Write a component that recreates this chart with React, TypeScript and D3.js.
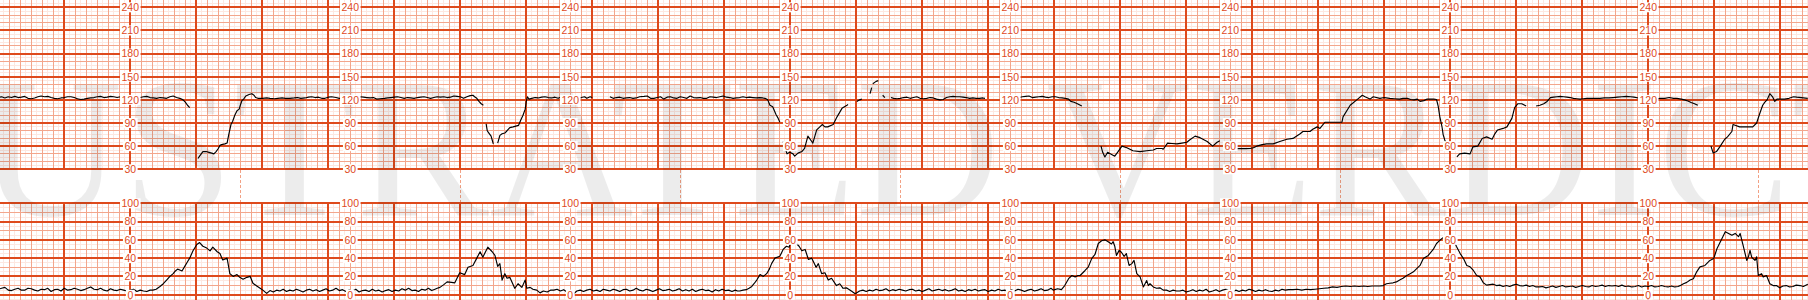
import React from 'react';
import * as d3 from 'd3';

// ---------- axes / ticks ----------
const fhrTicks = [30, 60, 90, 120, 150, 180, 210, 240];
const ucTicks = [0, 20, 40, 60, 80, 100];
// seconds at which the scale labels are printed
const labelTimes = [120, 320, 520, 720, 920, 1120, 1320, 1500];
// seconds at which event marks (dashed) appear between panels
const markerTimes = [220, 420, 620, 820, 1020, 1220, 1600];
const watermark = 'ILLUSTRATED VERDICT';

// ---------- fetal heart rate (bpm), [seconds, bpm], gaps = separate segments ----------
const fhrSegA = [[0,123],[3,124],[6,122.5],[9,124],[12,123],[15,124.5],[18,123],[21,123.5],[24,124.5],[27,122],[30,121.5],[33,122.5],[36,124],[39,125],[42,124],[45,124.5],[48,123],[51,122],[54,121.5],[57,122.5],[60,123],[63,124],[66,124],[69,123],[72,121.5],[75,120.5],[78,121],[81,122],[84,122.5],[87,123],[90,124],[93,124.5],[96,123],[99,123.5],[102,124.5],[105,124],[108,123],[111,124],[114,123],[117,123.5],[120,124.5],[123,124],[126,123.5],[129,123],[132,124],[135,124.5],[138,123],[141,122.5],[144,122],[147,123],[150,122.5],[153,122],[156,124],[159,125],[162,123],[165,122],[168,120],[170,117],[172,113],[174,110]];
const fhrSegB = [[181.5,44],[183,47],[186,53],[189,53],[191.5,52],[194,51],[196,50],[198,53],[200,57],[201.5,61],[203,62],[206,63],[208,64],[209.5,75],[211.5,88],[213,92],[215,100],[217,106],[219,108],[220,113],[221.5,119],[223,121],[225,125],[228,127],[230.5,128],[232.5,126],[234,123],[236,122],[240,122],[244,122.5],[247,122],[251,121.5],[254,122],[258,122.5],[261,122],[265,122],[269,122.5],[272,123],[275,122],[279,122.5],[282,123.5],[285,124],[288,123],[291,123.5],[294,122],[297,122],[300,123.5],[303,124],[307,123],[310,122],[313,122.5],[316,123],[319,124],[322,122.5],[325,122],[329,124],[332,123.5],[335,123],[338,122.5],[341,123],[344,121],[347,121.5],[351,122],[354,122.5],[357,123],[360,123.5],[363,124],[366,123],[369,122],[372,123],[375,122.5],[378,122],[381,123],[384,123.5],[387,124],[390,123],[393,122],[396,123],[399,124],[402,123.5],[405,124],[408,123],[411,123.5],[414,125],[417,124.5],[420,124],[423,122],[426,124],[429,125.5],[431.5,126],[433,124],[435,122],[437,118],[439,115],[441,113]];
const fhrSegC = [[443.5,89],[444.5,80],[446,77],[448,73],[449,68],[450,63]];
const fhrSegD = [[454,64],[456,74],[458,76],[460.5,77],[462.5,80],[465,84],[468,85],[470.5,86],[473,87],[475,94],[477,100],[479,108],[480,118],[481,124],[482.5,121],[485,122],[488,123],[491,122.5],[494,123.5],[497,124],[500,123],[503,122.5],[506,123.5],[509,122],[512,124],[515,125],[518,123.5],[521,123],[524,122],[527,122.5],[530,123],[533,124],[535,122],[538,124],[540,123]];
const fhrSegE = [[556,124],[559,122],[562,123],[565,123.5],[568,122],[571,122.5],[574,123],[577,122],[580,122.5],[583,124],[587,124.5],[590,125],[593,122],[596,122],[599,123],[602,124],[605,121],[608,123.5],[611,124],[614,122.5],[617,122],[620,124],[623,123],[626,122],[629,125],[632,123],[635,122.5],[638,123],[641,122],[644,122],[647,124],[650,123.5],[653,123],[656,124],[659,125],[662,123.5],[665,123],[668,122],[671,122.5],[674,123],[677,124],[680,123],[683,123.5],[686,123],[689,122.5],[692,123],[695,122.5],[697,122],[699.5,120],[701.5,113],[704,111],[707,101],[709,96],[710.5,91]];
const fhrSegF = [[713.5,66],[715,59],[717,50],[719.5,52],[722.5,50],[724,47],[727,51],[730.5,53],[733,57],[736,73],[739.5,66],[740.5,64],[744,81],[749,88],[751.5,85],[754,85],[759,88],[762.5,98],[767,109],[771.5,113],[772.5,114]];
const fhrSegG = [[780.5,118],[783,120],[785,121]];
const fhrSegH1 = [[792.5,128],[794,136]];
const fhrSegH2 = [[795,141],[798,144],[800,145]];
const fhrSegH3 = [[804,126],[806,123]];
const fhrSegI = [[811.5,123],[814,122],[817,121.5],[820,122],[823,123],[826,123.5],[829,122],[832,123],[835,124],[838,122],[841,121.5],[844,122],[847,123],[850,122.5],[853,121],[856,120],[859,120.5],[862,123],[865,124],[868,124.5],[871,124],[874,124],[877,123.5],[880,123],[883,122],[886,122.5],[889,122],[892,122],[895,122.5],[897,122]];
const fhrSegJ = [[913,122],[916,121],[919,122.5],[922,122],[925,124],[928,123],[931,124],[934,124.5],[937,125],[940,123],[943,123.5],[946,124],[949,124.5],[952,123.5],[955,123],[958,124],[961,124],[964,123],[967,122.5],[970,122],[973,121],[975,118],[978,117],[981,115],[985,112]];
const fhrSegK = [[1002.5,60],[1004,52],[1006,46],[1008.5,52],[1012.5,49],[1015,47],[1018,53],[1021.5,60],[1026,58],[1031.5,54],[1038,53],[1044,54],[1050,55],[1053,57],[1058,57],[1059,56],[1063,64],[1067,63.5],[1071.5,63],[1076,64],[1080.5,65],[1083,68],[1088,73],[1092.5,71],[1099,66],[1104,60],[1108,65],[1110.5,67]];
const fhrSegL = [[1113.5,60],[1119.5,57],[1124,56.5],[1129,57],[1134,56.8],[1138,57],[1141,58],[1144,60],[1149,62],[1153,63],[1159,63],[1165,66],[1171.5,69],[1177,70],[1183.5,76],[1186,79],[1192.5,79],[1195,82],[1199,85],[1201.5,83],[1206,91],[1213,91],[1221.5,91],[1222.5,98],[1229,113],[1235,120],[1240,126],[1242.5,124],[1247,121],[1250,124],[1256,122],[1260,123],[1265,122],[1269,121.5],[1274,121],[1277,122],[1281,122],[1284,120.5],[1287,120],[1290,121],[1292.5,118],[1296,119],[1299,121],[1302,121],[1305,121],[1307.5,120.5],[1309,112],[1310.5,98],[1312.5,85],[1313.5,75],[1315,68],[1317,60],[1318,57],[1319.5,53]];
const fhrSegM = [[1326,46],[1328.5,50],[1333,51],[1338,50],[1340.5,59],[1345,60],[1349,70],[1353,72],[1358,69],[1360.5,76],[1363,81],[1368,83],[1371.5,85],[1376,96],[1378.5,110],[1381.5,115],[1385,115],[1389,112]];
const fhrSegN = [[1398,112],[1401.5,113],[1405,115],[1408,118],[1411,123],[1414,123.5],[1417,124],[1420,124.5],[1423,124],[1426,123.5],[1429,123],[1432,122],[1435,121.5],[1438,121],[1441,121.5],[1444,122],[1448,122],[1452,122],[1456,122],[1460,122.5],[1464,122.5],[1468,123],[1472,123.5],[1476,124],[1480,124.5],[1484,124],[1487,123.5],[1491,122.5],[1495,122.5],[1499,122],[1503,122],[1507,121.5],[1511,122],[1515,122],[1519,123],[1523,122],[1526,122],[1530,121],[1533,120],[1536,118.5],[1539,116.5],[1542,115],[1545,113]];
const fhrSegO = [[1557,60],[1559,51],[1562,53],[1565,59],[1569.5,69],[1572,72],[1576,79],[1577,88],[1579,87],[1583,85],[1587,85],[1590,85],[1595,85],[1598.5,90],[1601.5,103],[1604,113],[1606,117],[1608,120],[1610.5,128],[1613,124],[1615,118],[1617,121],[1620,121],[1624,121],[1628,122],[1632,124],[1635,123.5],[1639,123],[1645,122]];
const fhrSegments = [fhrSegA, fhrSegB, fhrSegC, fhrSegD, fhrSegE, fhrSegF, fhrSegG, fhrSegH1, fhrSegH2, fhrSegH3, fhrSegI, fhrSegJ, fhrSegK, fhrSegL, fhrSegM, fhrSegN, fhrSegO];

// ---------- uterine contractions, [seconds, units] ----------
const ucData = [
[0,6],[3,7],[6,8],[9,5],[12,4.5],[15,6],[18,7],[21,5],[24,5],[27,7],[30,6.5],[33,5],[36,4],[39,6],[42,5.5],[45,7],[48,3.5],[51,5.5],[54,6],[57,4],[60,7],[63,5],[66,5.5],[69,7],[72,6],[75,4.5],[78,5.5],[81,7],[84,8.5],[87,6],[90,5.5],[93,7],[96,5],[99,4],[102,6.5],[105,5],[108,4.5],[111,6],[114,5],[117,4],[120,5],[123,6],[126,3.5],[129,5],[132,4],[135,3.5],[138,5],
[140.5,5],[143.5,6],[147,9],[150,12],[153,16],[156,20],[159,23],[161,26],[163,28],[165,27],[167,26],[169.5,31],[172,36],[174,40],[177,48],[180.5,55],[183,57],[186,53],[189.5,51],[192.5,48],[195,52],[199,47],[201.5,45],[204,38],[208,40],[210.5,23],[213.5,20],[217,22],[219.5,19],[222.5,17],[226,19],[229,20],[231.5,12.5],[235,9.5],[238,7],[240.5,5],[244,1.5],[247,4.5],
[250,3],[253,5],[256,4],[259,6],[262,3.5],[265,5],[268,4],[271,6],[274,4.5],[277,3],[280,5],[283,6],[286,4],[289,5.5],[292,3.5],[295,5],[298,6.5],[301,4],[304,5],[307,7],[310,4.5],[313,5.5],[316,3.5],[319,5],[322,4],[325,6],[328,3],[331,4.5],[334,5],[337,3.5],[340,6],[343,4],[346,5],[349,3],[352,4.5],[355,5.5],[358,3.5],[361,5],[364,4],[367,6.5],[370,5],[373,7],[376,4.5],[379,5],[382,3.5],[385,6],[388,5],[391,7],[394,4.5],[397,6],[399,7],
[401.5,8],[405,11],[408,14],[412,13.5],[415,13],[419.5,24],[424,22],[427,30],[431.5,32],[435,40],[438,47],[440.5,41],[442.5,46],[445,52],[449,47],[451.5,43],[454,31],[456,34],[458,16],[460.5,23],[462.5,18],[465,19],[469.5,7],[472.5,12],[476,8],[479,16],[480.5,7],[483.5,8],[486,6],[489.5,5],[492.5,2],[495.5,4],[499,3],[502,5],[505,5],[508,6],[511,4],[514,5.5],[517,3],[520,4],[523,1],[526,4],[529,5],
[532,3.5],[535,5],[538,6],[541,4],[544,5],[547,3.5],[550,6],[553,5],[556,4],[559,6],[562,5],[565,3.5],[568,5.5],[571,6],[574,4],[577,5],[580,7],[583,5],[586,4],[589,6],[592,5],[595,3.5],[598,5],[601,6.5],[604,4.5],[607,5],[610,6],[613,4],[616,5],[619,6.5],[622,4],[625,5.5],[628,4],[631,6],[634,3.5],[637,5],[640,6],[643,4.5],[646,5],[649,3],[652,5.5],[655,4],[658,6],[661,4.5],[664,5],[667,3.5],[670,5],[672,4],
[674,4],[677,5],[680,5.5],[682.5,7],[685,9],[687,12],[689.5,16],[692.5,22],[695.5,20],[698.5,23],[701,28],[703,34],[706,40],[710.5,42],[713.5,49.5],[716.5,53],[719,52],[721,60],[723.5,57],[725.5,56],[728,53],[730.5,48],[733.5,49.5],[736.5,38.5],[739.5,40],[743.5,30],[745.5,34],[748.5,23],[751.5,24],[754.5,16],[757.5,18],[762,10],[765,12],[768,7],[771,7.5],[775.5,4],[779,1],[783,4],
[786,5],[789,3.5],[792,5],[795,4],[798,6],[801,4.5],[804,5],[807,6.5],[810,4],[813,5.5],[816,4.5],[819,6],[822,5],[825,4],[828,5.5],[831,6],[834,4],[837,5],[840,3.5],[843,5],[846,6.5],[849,4],[852,5],[855,6],[858,4.5],[861,5.5],[864,4],[867,5],[870,6.5],[873,4],[876,5],[879,3.5],[882,5.5],[885,4.5],[888,6],[891,4],[894,5],[897,5.5],[900,3.5],[903,5],[906,4],[909,6],[912,4.5],[915,5],[918,3.5],[921,5.5],[924,4],[927,6],[930,5],[933,3.5],[936,5],[939,6],[942,4],[945,5],[948,6.5],[951,4.5],[954,5],[957,7],
[959,5],[963,6.5],[966.5,5.5],[969.5,10],[973,17.5],[976,21],[979,19.5],[981.5,21],[983.5,21],[988,26.5],[991,30.5],[994,39.5],[997,44],[1000,56],[1003,59],[1006,60],[1009,58],[1012,55.5],[1013.5,58],[1015,53],[1016.5,43],[1019,48.5],[1021,46.5],[1023.5,42],[1025.5,45],[1028,32],[1030.5,34],[1032.5,37.5],[1035,23],[1038,19.5],[1041,8.5],[1044,15.5],[1045.5,10],[1047,12],[1050,8.5],[1053,7],[1056,7.5],[1059,5],[1062,5],[1065,3.5],[1068,5],[1071,4],[1074,4],[1077,5],[1080,3],
[1083,4],[1086,5.5],[1089,3.5],[1092,5],[1095,4],[1098,6],[1101,3],[1104,4],[1107,5.5],[1110,3.5],[1113,5],[1116,6],[1119,4],[1122,3],[1125,5],[1128,3.5],[1131,5],[1134,4],[1137,6],[1140,5],[1143,3.5],[1146,5],[1149,4],[1152,5.5],[1155,4],[1158,3.5],[1161,5],[1164,4],[1167,6],[1170,5],[1173,5.5],[1177,5.5],[1181,6],[1185,5],[1189,6],[1193,5.5],[1197,6],[1201,6.5],[1205,7],[1209,7.5],[1213,8.5],[1217,8],[1221,9],[1225,9.5],[1229,9],[1233,9.5],[1237,9],[1241,9.5],[1245,9],[1249,9.5],[1253,9.5],[1256,9.5],[1259,10],
[1262,12],[1265,12.5],[1268,13],[1271,14],[1274,16],[1277,18],[1280.5,21],[1283.5,23],[1286.5,25],[1289,28],[1292.5,32],[1295.5,39.5],[1300,43],[1304.5,49.5],[1307.5,56],[1310.5,59.5],[1313.5,62.5],[1316.5,63.5],[1319.5,60.5],[1322.5,62.5],[1325.5,53],[1329,45],[1332,39.5],[1335,32],[1338,30.5],[1341,26.5],[1344,21],[1347,19.5],[1350,13],[1353,10.5],
[1356,11],[1359,11.5],[1362,10],[1365,10.5],[1368,9],[1371,10],[1374,9],[1377,10.5],[1380,11.5],[1383,10],[1386,9.5],[1389,10.5],[1392,9],[1395,10],[1398,8.5],[1401,8.5],[1404,9],[1407,7.5],[1410,8.5],[1413,9.5],[1416,8],[1419,9],[1422,10],[1425,8.5],[1428,9],[1431,9.5],[1434,8],[1437,9],[1440,10],[1443,9],[1446,8.5],[1449,10],[1452,9],[1455,9.5],[1458,10.5],[1461,9],[1464,10],[1467,9.5],[1470,10],[1473,9],[1476,10.5],[1479,9],[1482,9.5],[1485,8.5],[1488,9],[1491,10],[1494,8.5],[1497,9.5],[1500,9],[1503,10],[1506,8.5],[1509,9],[1512,10],[1515,9],[1518,8.5],[1521,9.5],[1524,8.5],[1527,9],[1530,10.5],
[1532,12],[1535,13.5],[1538,16],[1541,17.5],[1544,25],[1547,30.5],[1551.5,32],[1556,37.5],[1559.5,39.5],[1562.5,50.5],[1567,61.5],[1570,69],[1573,67],[1576,65],[1579,67],[1582,63.5],[1583.5,67],[1586.5,52.5],[1589.5,37.5],[1591,41.5],[1592.5,48.5],[1594,41],[1597,37.5],[1598.5,41.5],[1600,21],[1603,23],[1604.5,19.5],[1607.5,21],[1610.5,12],[1613.5,10],[1616.5,10],[1619.5,7.5],[1622.5,9.5],[1625.5,10],[1628.5,8.5],[1631.5,9],[1634.5,10.5],[1638,10],[1641,9],[1645,11.5]
];

// ---------- styling ----------
const W = 1808;
const H = 300;
const MAJOR = '#de4a1c';
const MEDIUM = '#f3a68c';
const PALE = '#fde8e1';
const LABEL_FONT = '"Liberation Sans", Arial, sans-serif';

export default function App() {
  const x = d3.scaleLinear().domain([0, 1645.2]).range([-1.7, 1808]);
  const yF = d3.scaleLinear().domain([30, 240]).range([169.3, 7.3]);
  const yU = d3.scaleLinear().domain([0, 100]).range([294.7, 203.3]);

  const fhrTop = 0;
  const fhrBottom = yF(30);
  const ucTop = yU(100);
  const ucBottom = H;

  const tMax = 1645;
  const vTimes = d3.range(0, tMax + 1, 5);
  const fhrLevels = d3.range(30, 251, 5);
  const ucLevels = d3.range(-5, 101, 5);

  const kindT = (t: number) => (t % 60 === 0 ? 'major' : t % 10 === 0 ? 'medium' : 'pale');
  const kindF = (v: number) => (v % 30 === 0 ? 'major' : v % 10 === 0 ? 'medium' : 'pale');
  const kindU = (v: number) => (v % 20 === 0 ? 'major' : v % 10 === 0 ? 'medium' : 'pale');
  const color = { major: MAJOR, medium: MEDIUM, pale: PALE } as Record<string, string>;
  const width = { major: 2, medium: 1, pale: 1 } as Record<string, number>;
  const order = ['pale', 'medium', 'major'];

  const lineF = d3.line<number[]>().x((d) => x(d[0])).y((d) => yF(d[1]));
  const lineU = d3.line<number[]>().x((d) => x(d[0])).y((d) => yU(d[1]));

  const gridLines: React.ReactNode[] = [];
  order.forEach((k) => {
    vTimes.filter((t) => kindT(t) === k).forEach((t) => {
      const xx = x(t);
      gridLines.push(<line key={`vf${k}${t}`} x1={xx} x2={xx} y1={fhrTop} y2={fhrBottom} stroke={color[k]} strokeWidth={width[k]} />);
      gridLines.push(<line key={`vu${k}${t}`} x1={xx} x2={xx} y1={ucTop} y2={ucBottom} stroke={color[k]} strokeWidth={width[k]} />);
    });
    fhrLevels.filter((v) => kindF(v) === k).forEach((v) => {
      gridLines.push(<line key={`hf${k}${v}`} x1={0} x2={W} y1={yF(v)} y2={yF(v)} stroke={color[k]} strokeWidth={width[k]} />);
    });
    ucLevels.filter((v) => kindU(v) === k).forEach((v) => {
      gridLines.push(<line key={`hu${k}${v}`} x1={0} x2={W} y1={yU(v)} y2={yU(v)} stroke={color[k]} strokeWidth={width[k]} />);
    });
  });

  const labels: React.ReactNode[] = [];
  labelTimes.forEach((lt) => {
    const cx = x(lt);
    const add = (v: number, yy: number, key: string) => {
      const s = String(v);
      const w = s.length * 5.85 + 3;
      labels.push(
        <g key={key}>
          <rect x={cx - w / 2} y={yy - 5} width={w} height={10} fill="#fff" />
          <text x={cx} y={yy + 3.8} textAnchor="middle" fontSize={10.5} fontFamily={LABEL_FONT} fill={MAJOR}>{s}</text>
        </g>
      );
    };
    fhrTicks.forEach((v) => add(v, yF(v), `lf${lt}-${v}`));
    ucTicks.forEach((v) => add(v, yU(v), `lu${lt}-${v}`));
  });

  return (
    <svg width={W} height={H} style={{ position: 'absolute', left: 0, top: 0, background: '#fff' }}>
      <rect x={0} y={0} width={W} height={H} fill="#fff" />
      <g shapeRendering="crispEdges">{gridLines}</g>
      <g>
        {markerTimes.map((t) => (
          <line key={`m${t}`} x1={x(t)} x2={x(t)} y1={fhrBottom + 1} y2={ucTop - 1} stroke="#f2a184" strokeWidth={1} strokeDasharray="3 2" shapeRendering="crispEdges" />
        ))}
      </g>
      <text x={-333} y={215} fontSize={200} fontFamily='"Liberation Serif", "Times New Roman", serif' fill="#000" fillOpacity={0.075}>{watermark}</text>
      <g fill="none" stroke="#000" strokeWidth={1.15} strokeLinejoin="round">
        {fhrSegments.map((seg, i) => (
          <path key={`f${i}`} d={lineF(seg) || ''} />
        ))}
        <path d={lineU(ucData) || ''} />
      </g>
      <g>{labels}</g>
    </svg>
  );
}
